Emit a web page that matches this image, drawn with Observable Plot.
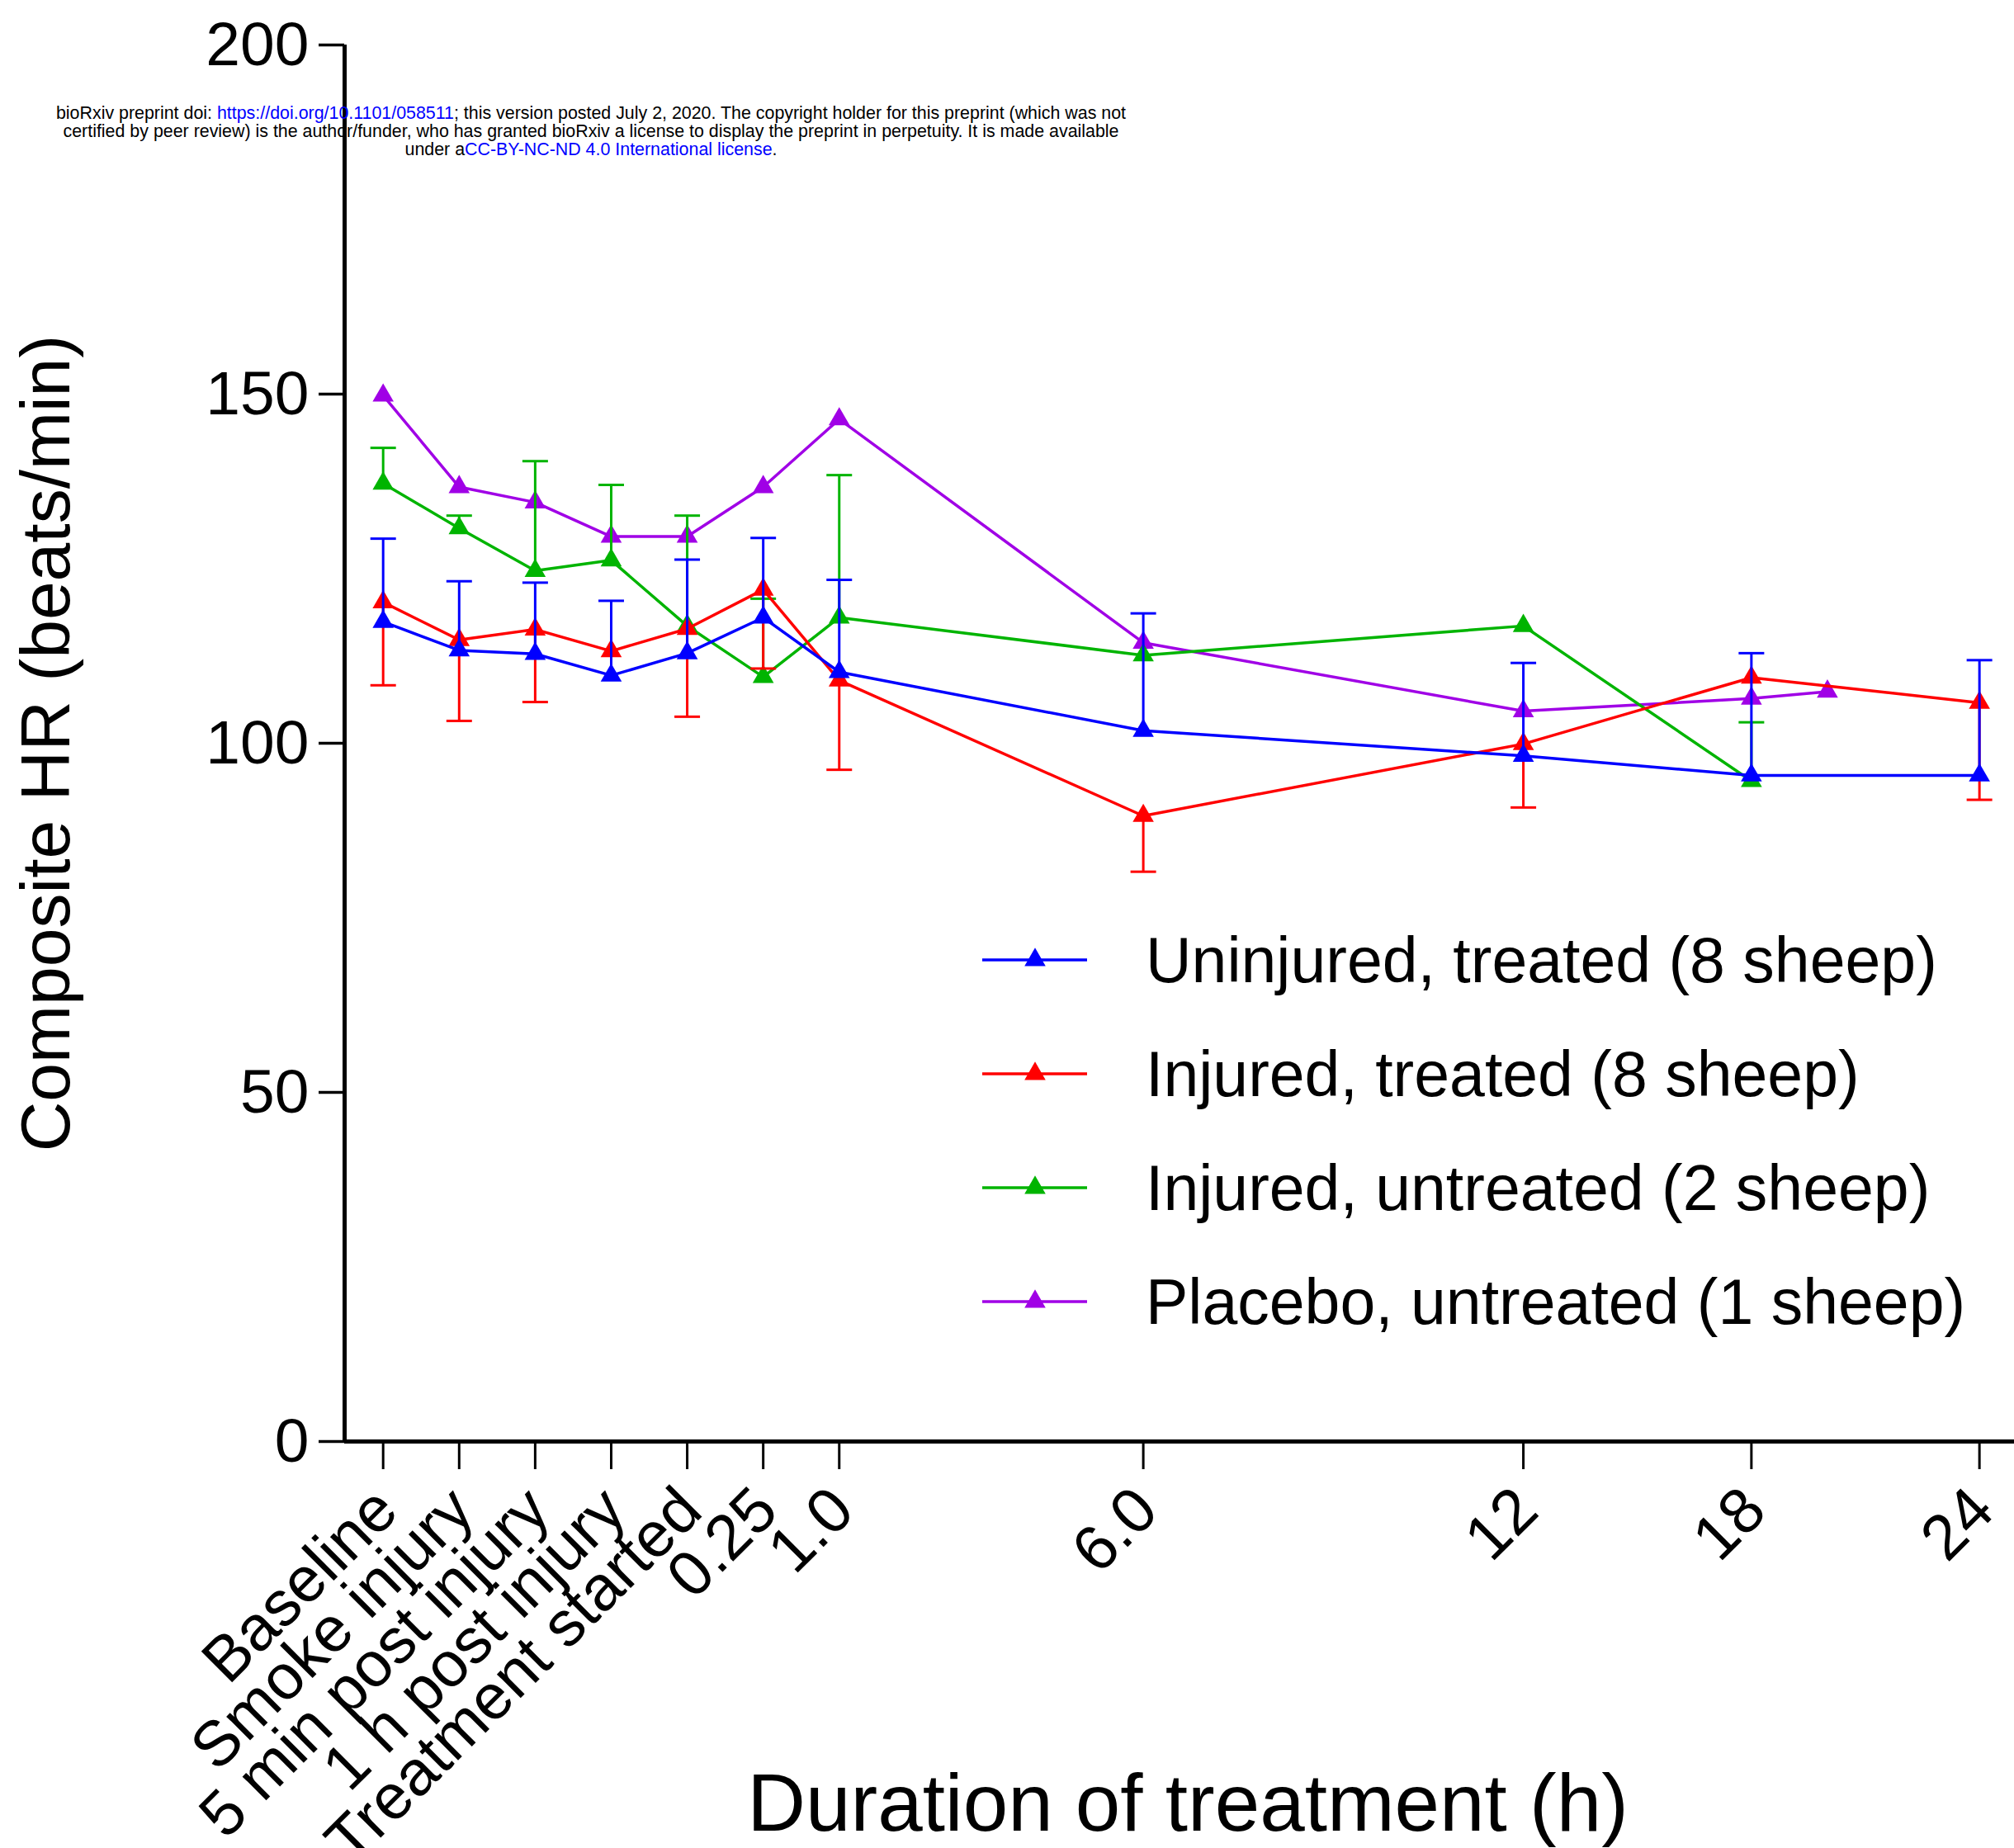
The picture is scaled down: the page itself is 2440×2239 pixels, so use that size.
<!DOCTYPE html>
<html>
<head>
<meta charset="utf-8">
<script src="https://cdn.jsdelivr.net/npm/d3@7"></script>
<script src="https://cdn.jsdelivr.net/npm/@observablehq/plot@0.6"></script>
<style>
  body { margin: 0; background: #fff; }
  #wrap { position: relative; width: 2440px; height: 2239px; overflow: hidden; font-family: "Liberation Sans", Arial, sans-serif; }
  #notice { position: absolute; left: 0; top: 127px; width: 1432px; text-align: center; font-size: 21.4px; line-height: 21.8px; color: #000; white-space: nowrap; }
  #notice a { color: #0000ff; text-decoration: none; }
  #legend { position: absolute; left: 0; top: 0; }
</style>
</head>
<body>
<div id="wrap">
  <div id="chart"></div>
  <div id="notice">bioRxiv preprint doi: <a>https://doi.org/10.1101/058511</a>; this version posted July 2, 2020. The copyright holder for this preprint (which was not<br>certified by peer review) is the author/funder, who has granted bioRxiv a license to display the preprint in perpetuity. It is made available<br>under a<a>CC-BY-NC-ND 4.0 International license</a>.</div>
</div>
<script>
// ---- Data ----
const timeLabels = ["Baseline", "Smoke injury", "5 min post injury", "1 h post injury", "Treatment started", "0.25", "1.0", "6.0", "12", "18", "", "24"];
const timeCodes  = [0, 1, 2, 3, 4, 5, 6, 10, 15, 18, 19, 21];

const seriesNames  = ["Uninjured, treated (8 sheep)", "Injured, treated (8 sheep)", "Injured, untreated (2 sheep)", "Placebo, untreated (1 sheep)"];
const seriesColors = ["#0000ff", "#ff0000", "#00b400", "#a000e6"];

const uninjuredTreated    = [117.4, 113.3, 112.8, 109.7, 112.9, 118.0, 110.2, 101.8, 98.2, 95.4, null, 95.4];
const uninjuredTreatedErr = [129.3, 123.2, 123.0, 120.4, 126.3, 129.4, 123.4, 118.6, 111.5, 112.9, null, 111.9];

const injuredTreated      = [120.2, 114.8, 116.3, 113.2, 116.4, 122.0, 109.0, 89.6, 99.9, 109.4, null, 105.8];
const injuredTreatedErr   = [108.3, 103.2, 105.9, null, 103.8, 110.7, 96.2, 81.6, 90.8, null, null, 91.9];

const injuredUntreated    = [137.2, 130.8, 124.7, 126.2, 116.8, 109.5, 118.0, 112.6, 116.8, 94.6, null, null];
const injuredUntreatedErr = [142.3, 132.6, 140.4, 137.0, 132.6, 120.7, 138.4, null, null, 103.0, null, null];

const placeboUntreated    = [149.8, 136.7, 134.5, 129.6, 129.6, 136.7, 146.4, 114.4, 104.6, 106.4, 107.4, null];
const placeboUntreatedErr = [null, null, null, null, null, null, null, null, null, null, null, null];

const yTicks = [0, 50, 100, 150, 200];
const xDomain = [-0.507, 21.46];
const yDomain = [0, 200];

// ---- Build table ----
const seriesValues = [uninjuredTreated, injuredTreated, injuredUntreated, placeboUntreated];
const seriesErrors = [uninjuredTreatedErr, injuredTreatedErr, injuredUntreatedErr, placeboUntreatedErr];
const rows = [];
seriesNames.forEach((name, s) => {
  seriesValues[s].forEach((v, i) => {
    if (v != null) rows.push({series: name, x: timeCodes[i], y: v, err: seriesErrors[s][i]});
  });
});
const tickCodes = timeCodes.filter((c, i) => timeLabels[i] !== "");
const labelOf = c => timeLabels[timeCodes.indexOf(c)];

const capSymbol = {
  draw(ctx, size) {
    const w = Math.sqrt(size / Math.PI);
    ctx.moveTo(-w, 0);
    ctx.lineTo(w, 0);
  }
};

const marks = [];
const drawOrder = [3, 2, 1, 0];
for (const k of drawOrder) {
  const d = rows.filter(r => r.series === seriesNames[k]);
  const e = d.filter(r => r.err != null);
  const c = seriesColors[k];
  marks.push(
    Plot.ruleX(e, {x: "x", y1: "y", y2: "err", stroke: c, strokeWidth: 3}),
    Plot.dot(e, {x: "x", y: "err", symbol: capSymbol, r: 15.5, stroke: c, strokeWidth: 3, fill: "none"}),
    Plot.line(d, {x: "x", y: "y", stroke: c, strokeWidth: 3.5}),
    Plot.dot(d, {x: "x", y: "y", symbol: "triangle", r: 9.5, fill: c, stroke: "none"})
  );
}

const chart = Plot.plot({
  width: 2440,
  height: 2239,
  marginLeft: 417,
  marginRight: 0,
  marginTop: 54,
  marginBottom: 493,
  style: {fontFamily: "'Liberation Sans', Arial, sans-serif", background: "white", color: "black", overflow: "hidden"},
  x: {type: "linear", domain: xDomain},
  y: {domain: yDomain},
  marks: [
    Plot.axisY({ticks: yTicks, tickSize: 31, tickPadding: 12, fontSize: 75, strokeWidth: 3.5, label: null}),
    Plot.axisX({ticks: tickCodes, tickFormat: () => "", tickSize: 34, strokeWidth: 3, label: null}),
    Plot.axisX({ticks: tickCodes, tickFormat: labelOf, tickRotate: -45, tickSize: 0, tickPadding: 70, dx: 4, fontSize: 77, label: null}),
    Plot.ruleY([yDomain[0]], {strokeWidth: 5}),
    Plot.ruleX([xDomain[0]], {strokeWidth: 5}),
    Plot.text(["Composite HR (beats/min)"], {frameAnchor: "left", rotate: -90, dx: -360, fontSize: 84, textAnchor: "middle", lineAnchor: "middle"}),
    Plot.text(["Duration of treatment (h)"], {frameAnchor: "bottom", dx: 10, dy: 440, fontSize: 98, textAnchor: "middle", lineAnchor: "middle"}),
    ...marks
  ]
});
document.getElementById("chart").appendChild(chart);

// ---- Legend overlay ----
const leg = d3.select("#wrap").append("svg")
  .attr("id", "legend")
  .attr("width", 2440).attr("height", 2239);
const tri = d3.symbol(d3.symbolTriangle, 9.5 * 9.5 * Math.PI)();
const items = leg.selectAll("g").data(seriesNames).join("g")
  .attr("transform", (d, i) => `translate(0,${1163 + i * 138})`);
items.append("line")
  .attr("x1", 1190).attr("x2", 1317).attr("y1", 0).attr("y2", 0)
  .attr("stroke", (d, i) => seriesColors[i]).attr("stroke-width", 3.5);
items.append("path")
  .attr("d", tri).attr("transform", "translate(1254,0)")
  .attr("fill", (d, i) => seriesColors[i]);
items.append("text")
  .attr("x", 1388).attr("y", 27)
  .attr("font-family", "'Liberation Sans', Arial, sans-serif")
  .attr("font-size", 77)
  .attr("fill", "#000")
  .text(d => d);
</script>
</body>
</html>
